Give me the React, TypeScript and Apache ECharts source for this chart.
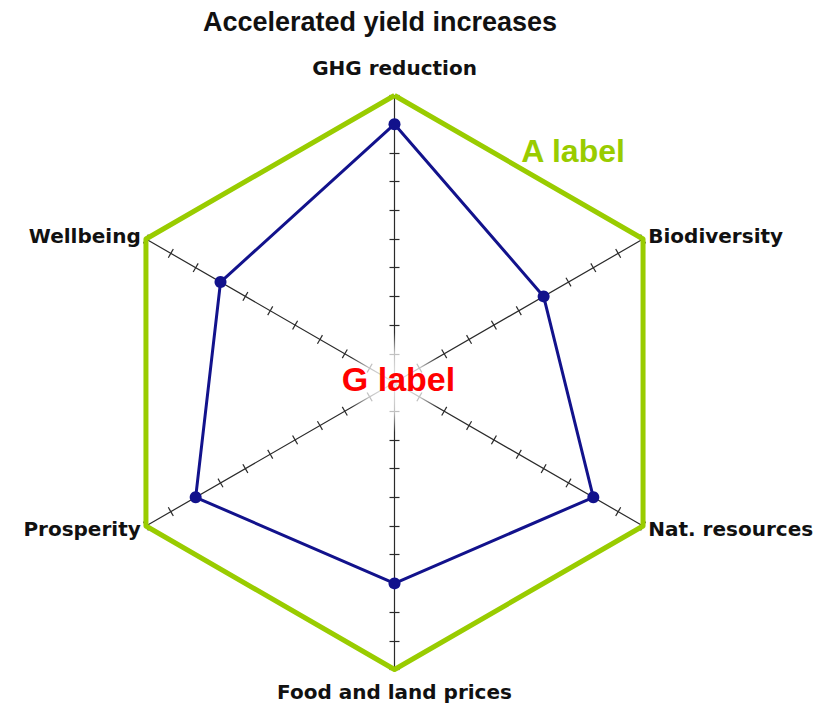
import { useEffect, useRef } from 'react';
import * as echarts from 'echarts';

// Indicators listed counter-clockwise starting from the top (ECharts radar order)
const indicatorNames = ['GHG reduction', 'Wellbeing', 'Prosperity', 'Food and land prices', 'Nat. resources', 'Biodiversity'];
const scenarioValues = [9, 7, 8, 7, 8, 6];
const outerValues = [10, 10, 10, 10, 10, 10];
const axisMax = 10;
const tickCount = 10;
const titleText = 'Accelerated yield increases';
const greenLabel = 'A label';
const redLabel = 'G label';

export default function App() {
  const ref = useRef<HTMLDivElement>(null);
  useEffect(() => {
    if (!ref.current) return;
    const chart = echarts.init(ref.current, null, { renderer: 'svg' });
    const cx = 394.5;
    const cy = 382.5;
    const radius = 287;
    const indicator = indicatorNames.map((name) => ({ name, min: 0, max: axisMax }));
    const axisColor = '#2a2a2a';
    const nameFont = {
      color: '#111',
      fontFamily: 'DejaVu Sans',
      fontWeight: 'bold' as const,
      fontSize: 20,
    };
    const baseRadar = {
      center: [cx, cy],
      radius,
      startAngle: 90,
      splitNumber: tickCount,
      shape: 'polygon' as const,
      indicator,
      splitLine: { show: false },
      splitArea: { show: false },
    };
    chart.setOption({
      animation: false,
      backgroundColor: '#ffffff',
      radar: [
        {
          ...baseRadar,
          nameGap: 6,
          axisName: {
            ...nameFont,
            formatter: (name: string) => {
              if (name === indicatorNames[0]) return '{top|' + name + '}';
              if (name === indicatorNames[3]) return '{bot|' + name + '}';
              return name;
            },
            rich: {
              top: { ...nameFont, padding: [0, 0, 12, 0] },
              bot: { ...nameFont, padding: [6, 0, 0, 0] },
            },
          },
          axisLine: { show: true, lineStyle: { color: axisColor, width: 1.2 } },
          axisTick: { show: true, length: 5, lineStyle: { color: axisColor, width: 1.2 } },
          axisLabel: { show: false },
        },
        {
          ...baseRadar,
          axisName: { show: false },
          axisLine: { show: false },
          axisTick: { show: true, length: -5, lineStyle: { color: axisColor, width: 1.2 } },
          axisLabel: { show: false },
        },
      ],
      series: [
        {
          type: 'radar',
          radarIndex: 0,
          z: 2,
          symbol: 'none',
          lineStyle: { color: '#99cc00', width: 5 },
          data: [{ value: outerValues, name: 'outer' }],
        },
        {
          type: 'radar',
          radarIndex: 0,
          z: 4,
          symbol: 'circle',
          symbolSize: 12,
          itemStyle: { color: '#12128c' },
          lineStyle: { color: '#12128c', width: 3 },
          data: [{ value: scenarioValues, name: 'scenario' }],
        },
      ],
      graphic: [
        {
          type: 'circle',
          z: 10,
          shape: { cx, cy, r: 50 },
          style: {
            fill: new echarts.graphic.RadialGradient(0.5, 0.5, 0.5, [
              { offset: 0, color: 'rgba(255,255,255,0.9)' },
              { offset: 0.6, color: 'rgba(255,255,255,0.7)' },
              { offset: 1, color: 'rgba(255,255,255,0)' },
            ]),
          },
          silent: true,
        },
        {
          type: 'text',
          z: 11,
          x: 380,
          y: 22,
          style: {
            text: titleText,
            fill: '#111',
            fontFamily: 'Liberation Sans',
            fontWeight: 'bold',
            fontSize: 27,
            align: 'center',
            verticalAlign: 'middle',
          },
        },
        {
          type: 'text',
          z: 11,
          x: 573,
          y: 151,
          style: {
            text: greenLabel,
            fill: '#99cc00',
            fontFamily: 'Liberation Sans',
            fontWeight: 'bold',
            fontSize: 32,
            align: 'center',
            verticalAlign: 'middle',
          },
        },
        {
          type: 'text',
          z: 11,
          x: 398.5,
          y: 379,
          style: {
            text: redLabel,
            fill: '#ff0000',
            fontFamily: 'Liberation Sans',
            fontWeight: 'bold',
            fontSize: 34,
            align: 'center',
            verticalAlign: 'middle',
          },
        },
      ],
    });
    return () => chart.dispose();
  }, []);
  return (
    <div
      ref={ref}
      style={{ position: 'fixed', left: 0, top: 0, width: 834, height: 707, background: '#fff' }}
    />
  );
}
